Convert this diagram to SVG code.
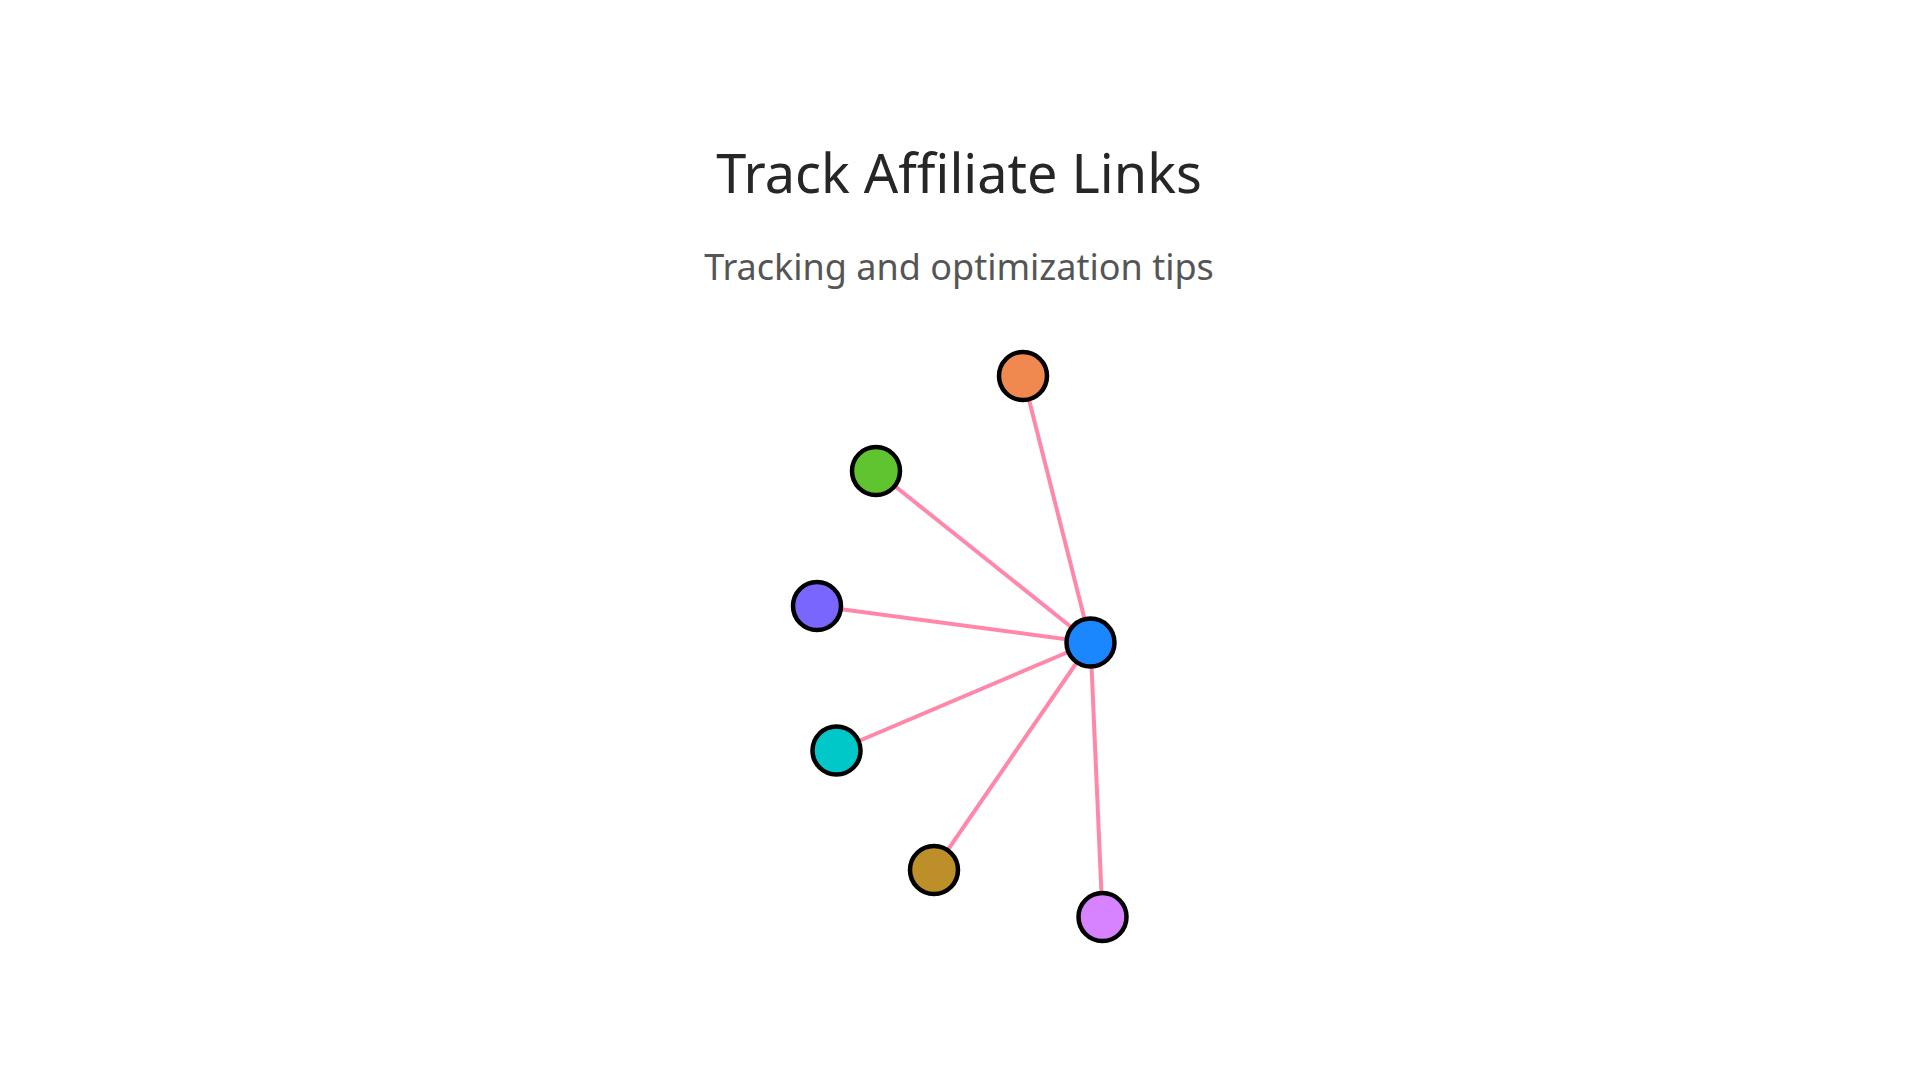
<svg xmlns="http://www.w3.org/2000/svg" width="1920" height="1080" viewBox="0 0 1920 1080">
  <style>
    .title { font-family: "Noto Sans", "Open Sans", sans-serif; font-size: 54px; fill: #262626; text-anchor: middle; }
    .subtitle { font-family: "Noto Sans", "Open Sans", sans-serif; font-size: 36px; fill: #555555; text-anchor: middle; }
    .edge { stroke: #ff88aa; stroke-width: 4; stroke-linecap: round; fill: none; }
    .node { stroke: #000000; stroke-width: 4.5; }
  </style>
  <rect x="0" y="0" width="1920" height="1080" fill="#ffffff"/>
  <text class="title" x="959" y="193">Track Affiliate Links</text>
  <text class="subtitle" x="959" y="280">Tracking and optimization tips</text>
  <g id="connectors">
    <line class="edge" x1="1090.5" y1="642.5" x2="1023" y2="376"/>
    <line class="edge" x1="1090.5" y1="642.5" x2="876" y2="471"/>
    <line class="edge" x1="1090.5" y1="642.5" x2="817" y2="606"/>
    <line class="edge" x1="1090.5" y1="642.5" x2="836.5" y2="750.5"/>
    <line class="edge" x1="1090.5" y1="642.5" x2="934" y2="870"/>
    <line class="edge" x1="1090.5" y1="642.5" x2="1102.5" y2="917"/>
  </g>
  <g id="node-hub"><circle class="node" cx="1090.5" cy="642.5" r="24" fill="#1a86ff"/></g>
  <g id="node-orange"><circle class="node" cx="1023" cy="376" r="24" fill="#f0894f"/></g>
  <g id="node-green"><circle class="node" cx="876" cy="471" r="24" fill="#60c430"/></g>
  <g id="node-purple"><circle class="node" cx="817" cy="606" r="24" fill="#7866ff"/></g>
  <g id="node-teal"><circle class="node" cx="836.5" cy="750.5" r="24" fill="#00c8c8"/></g>
  <g id="node-brown"><circle class="node" cx="934" cy="870" r="24" fill="#bd8f28"/></g>
  <g id="node-violet"><circle class="node" cx="1102.5" cy="917" r="24" fill="#d783ff"/></g>
</svg>
